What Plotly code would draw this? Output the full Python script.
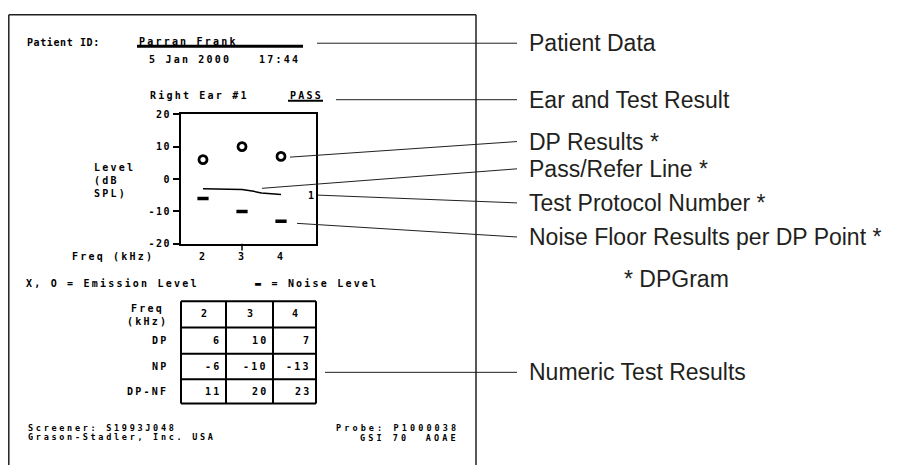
import plotly.graph_objects as go

# the page body keeps its default 8px margin, so the figure is 16px smaller than the window
PAGE_OFF = 8
W, H = 899 - 2 * PAGE_OFF, 473 - 2 * PAGE_OFF

# values
freq_khz = [2, 3, 4]
dp_level = [6, 10, 7]
noise_level = [-6, -10, -13]
dp_minus_nf = [11, 20, 23]
pass_refer_freq = [2.0, 2.7, 3.0, 3.3, 3.5, 4.0]
pass_refer_level = [-3.0, -3.0, -3.2, -3.8, -4.3, -4.8]
y_ticks = [20, 10, 0, -10, -20]
y_tick_labels = ["20", "10", "0", "-10", "-20"]
protocol_number = "1"
table_row_names = ["DP", "NP", "DP-NF"]
callout_labels = ["Patient Data", "Ear and Test Result", "DP Results *", "Pass/Refer Line *",
                  "Test Protocol Number *", "Noise Floor Results per DP Point *", "Numeric Test Results"]

MONO = "DejaVu Sans Mono"
INK = "#231f20"


# positions below are in window pixels, converted to paper fractions
def px(x):
    return (x - PAGE_OFF) / W


def py(y):
    return 1 - (y - PAGE_OFF) / H


def spaced(s, ls=2.2):
    return f'<span style="letter-spacing:{ls}px">{s}</span>'


fig = go.Figure()

# pass/refer line, DP results and noise floor
fig.add_trace(go.Scatter(x=pass_refer_freq, y=pass_refer_level, mode="lines",
                         line=dict(color="black", width=1.5)))
fig.add_trace(go.Scatter(x=freq_khz, y=dp_level, mode="markers",
                         marker=dict(symbol="circle-open", size=8, color="black",
                                     line=dict(width=2.8, color="black"))))
fig.add_trace(go.Scatter(x=freq_khz, y=noise_level, mode="markers",
                         marker=dict(symbol="line-ew", size=8, color="black",
                                     line=dict(width=3.5, color="black"))))

annotations = []
shapes = []


def mono(text, x, y, anchor="left", size=10, ls=2.2, family=MONO, align="left"):
    if ls:
        text = "<br>".join(spaced(t, ls) for t in text.split("<br>"))
    annotations.append(dict(text=text, x=px(x), y=py(y), xref="paper", yref="paper",
                            xanchor=anchor, yanchor="middle", showarrow=False, align=align,
                            font=dict(family=family, size=size, color="black", weight="bold")))


def line(x0, y0, x1, y1, width=1, color=INK):
    shapes.append(dict(type="line", xref="paper", yref="paper", x0=px(x0), y0=py(y0),
                       x1=px(x1), y1=py(y1), line=dict(color=color, width=width)))


# paper border
line(8.8, 8.8, 476, 8.8, 1.5)
line(8.8, 8.8, 8.8, 473, 1.5)
line(476, 8.8, 476, 473, 1.5)

# header of the printout
mono("Patient ID:", 25, 37, ls=0.6)
mono("Parran Frank", 137, 36)
line(137, 41, 303, 41, 3, "black")
mono("5 Jan 2000", 147, 55)
mono("17:44", 257, 55)
mono("Right Ear #1", 148, 92)
mono("PASS", 288, 92)
line(288, 97, 323, 97, 2, "black")

# DPGram labels
mono("Level<br>(dB<br>SPL)", 92, 179)
mono("Freq (kHz)", 70, 257)
annotations.append(dict(text=protocol_number, x=4.77, y=-5, xref="x", yref="y", showarrow=False,
                        font=dict(family=MONO, size=10, color="black", weight="bold")))
shapes.append(dict(type="line", xref="x", yref="paper", x0=3, x1=3, y0=py(244), y1=py(251),
                   line=dict(color="black", width=1.5)))

mono("X, O = Emission Level", 24, 285)
mono("\u25ac = Noise Level", 253, 285)

# numeric results table
col_edges = [181, 226, 273, 316]
row_edges = [303, 330, 357, 383, 408]
for cx in col_edges:
    line(cx, row_edges[0], cx, row_edges[-1], 2, "black")
for ry in row_edges:
    line(col_edges[0], ry, col_edges[-1], ry, 2, "black")

mono("Freq<br>(kHz)", 170, 317, anchor="right", align="center")
for i, f in enumerate(freq_khz):
    mono(str(f), (col_edges[i] + col_edges[i + 1]) / 2 + 1.5, 316, anchor="center")
for r, (name, vals) in enumerate(zip(table_row_names, [dp_level, noise_level, dp_minus_nf])):
    yc = (row_edges[r + 1] + row_edges[r + 2]) / 2
    mono(name, 170, yc, anchor="right")
    for i, v in enumerate(vals):
        mono(str(v), col_edges[i + 1] - 3, yc, anchor="right")

# footer
mono("Screener: S1993J048", 26, 433, size=8.5, ls=2.7)
mono("Grason-Stadler, Inc. USA", 26, 442, size=8.5, ls=2.7)
mono("Probe: P1000038", 461, 433, anchor="right", size=8.5, ls=3.1)
mono("GSI 70  AOAE", 461, 443, anchor="right", size=8.5, ls=3.1)

# callouts
callout_y = [38, 96, 139, 167, 202, 237, 376]
leader_start = [(317, 38), (336, 96), (290, 155), (262, 187), (318, 194), (297, 223), (325, 376)]
for label, ly, (sx, sy) in zip(callout_labels, callout_y, leader_start):
    line(sx, sy, 517, ly, 1)
    annotations.append(dict(text=label, x=px(527), y=py(ly), xref="paper", yref="paper",
                            xanchor="left", yanchor="middle", showarrow=False,
                            font=dict(family="Liberation Sans", size=23, color=INK)))
annotations.append(dict(text="* DPGram", x=px(622), y=py(280), xref="paper", yref="paper",
                        xanchor="left", yanchor="middle", showarrow=False,
                        font=dict(family="Liberation Sans", size=23, color=INK)))

fig.update_layout(
    width=W, height=H, margin=dict(l=0, r=0, t=0, b=0),
    paper_bgcolor="white", plot_bgcolor="white", showlegend=False,
    annotations=annotations, shapes=shapes,
    xaxis=dict(domain=[px(181), px(316)], range=[1.436, 4.897], tickvals=freq_khz,
               ticktext=[spaced(str(f)) for f in freq_khz], ticks="", ticklabelstandoff=2,
               tickfont=dict(family=MONO, size=10, color="black", weight="bold"),
               showgrid=False, zeroline=False, showline=True, mirror=True,
               linecolor="black", linewidth=2),
    yaxis=dict(domain=[py(244), py(111)], range=[-20, 20], tickvals=y_ticks,
               ticktext=[spaced(t, 1.5) for t in y_tick_labels], ticks="outside", ticklen=6,
               tickwidth=1.5, tickcolor="black",
               tickfont=dict(family=MONO, size=10, color="black", weight="bold"),
               showgrid=False, zeroline=False, showline=True, mirror=True,
               linecolor="black", linewidth=2),
)

fig.write_html("out.html")
